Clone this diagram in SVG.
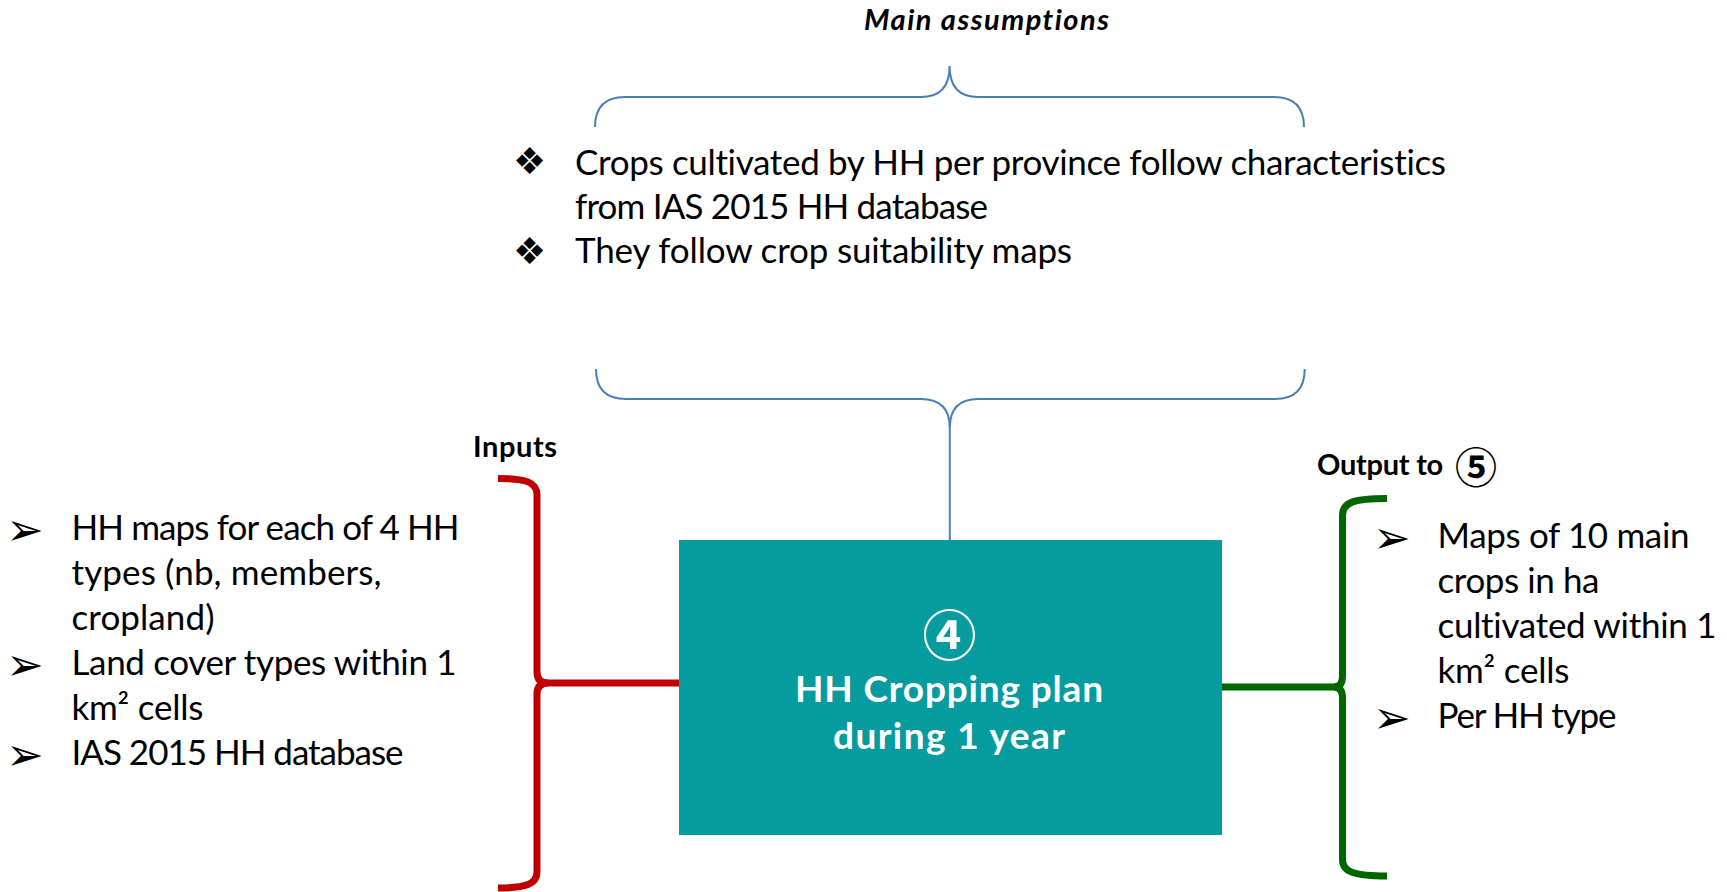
<svg xmlns="http://www.w3.org/2000/svg" width="1727" height="892" viewBox="0 0 1727 892">
<style>
text{font-variant-ligatures:none}
.body{font-family:Lato,"Liberation Sans","DejaVu Sans",sans-serif;font-size:35px;fill:#000}
.lbl{font-family:Lato,"Liberation Sans","DejaVu Sans",sans-serif;font-size:29px;font-weight:bold;fill:#000}
.bul{font-family:"DejaVu Sans",sans-serif;fill:#000}
.circ{font-family:"Noto Sans CJK JP","DejaVu Sans",sans-serif;font-weight:bold}
.boxt{font-family:Lato,"Liberation Sans","DejaVu Sans",sans-serif;font-size:37px;font-weight:bold;fill:#fff}
.blue{fill:none;stroke:#4A7EBB;stroke-width:2}
.red{fill:none;stroke:#C00000;stroke-width:7}
.green{fill:none;stroke:#006600;stroke-width:7}
</style>
<rect width="1727" height="892" fill="#fff"/>
<g id="connectors">
  <path class="blue" d="M595 127 Q595 97 625 97 L921 97 Q949.6 97 949.6 66 Q949.6 97 978 97 L1274 97 Q1304 97 1304 127"/>
  <path class="blue" d="M596 369 Q596 399 626 399 L921 399 Q949.8 399 949.8 428 Q949.8 399 978 399 L1275 399 Q1304.7 399 1304.7 369"/>
  <path class="blue" d="M949.8 428 L949.8 540"/>
  <path class="red" d="M498 478.5 C526 478.5 537 482 537 495 L537 672 Q537 683 548 683 Q537 683 537 694 L537 872 C537 884 526 888 498 888"/>
  <path class="red" d="M540 683 L679 683"/>
  <path class="green" d="M1387 498.5 C1355 498.5 1342.5 502 1342.5 515 L1342.5 676 Q1342.5 687 1334 687 Q1342.5 687 1342.5 698 L1342.5 860 C1342.5 872 1355 876 1387 876"/>
  <path class="green" d="M1222 687 L1339 687"/>
</g>
<g id="assumptions">
  <text class="lbl" x="864" y="30" font-style="italic" textLength="245">Main assumptions</text>
  <text class="bul" x="513" y="174" font-size="37">❖</text>
  <text class="body" x="575" y="175" textLength="871">Crops cultivated by HH per province follow characteristics</text>
  <text class="body" x="575" y="219" textLength="413">from IAS 2015 HH database</text>
  <text class="bul" x="513" y="264" font-size="37">❖</text>
  <text class="body" x="575" y="263" textLength="497">They follow crop suitability maps</text>
</g>
<g id="inputs">
  <text class="lbl" x="473" y="457" textLength="84">Inputs</text>
  <text class="bul" x="6" y="545" font-size="45">➢</text>
  <text class="body" x="71.5" y="540" textLength="388">HH maps for each of 4 HH</text>
  <text class="body" x="71.5" y="585" textLength="310">types (nb, members,</text>
  <text class="body" x="71.5" y="630" textLength="143">cropland)</text>
  <text class="bul" x="6" y="680" font-size="45">➢</text>
  <text class="body" x="71.5" y="675" textLength="385">Land cover types within 1</text>
  <text class="body" x="71.5" y="720" textLength="132">km² cells</text>
  <text class="bul" x="6" y="770" font-size="45">➢</text>
  <text class="body" x="71.5" y="765" textLength="332">IAS 2015 HH database</text>
</g>
<g id="process">
  <rect x="679" y="540" width="543" height="295" fill="#069C9F"/>
  <text class="circ" x="949.5" y="656" font-size="54" fill="#fff" text-anchor="middle">④</text>
  <text class="boxt" x="795" y="702" textLength="308">HH Cropping plan</text>
  <text class="boxt" x="833" y="749" textLength="232">during 1 year</text>
</g>
<g id="outputs">
  <text class="lbl" y="475"><tspan x="1317" textLength="133">Output to </tspan><tspan class="circ" x="1455" y="483" font-size="42">⑤</tspan></text>
  <text class="bul" x="1373" y="553" font-size="45">➢</text>
  <text class="body" x="1437.5" y="548" textLength="252">Maps of 10 main</text>
  <text class="body" x="1437.5" y="593" textLength="162">crops in ha</text>
  <text class="body" x="1437.5" y="638" textLength="279">cultivated within 1</text>
  <text class="body" x="1437.5" y="683" textLength="132">km² cells</text>
  <text class="bul" x="1373" y="733" font-size="45">➢</text>
  <text class="body" x="1437.5" y="728" textLength="179">Per HH type</text>
</g>
</svg>
